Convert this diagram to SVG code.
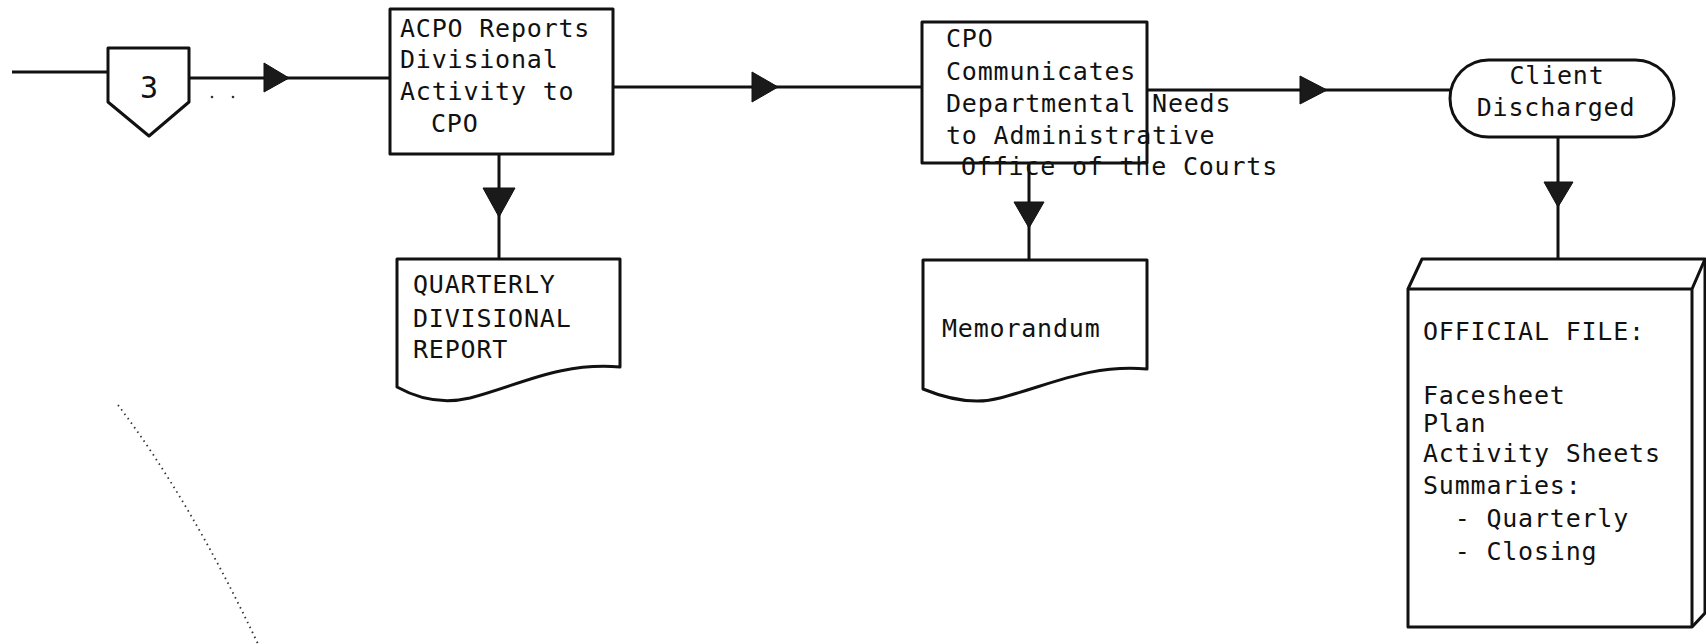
<svg xmlns="http://www.w3.org/2000/svg" width="1706" height="644" viewBox="0 0 1706 644">
<style>
.shape{fill:#fff;stroke:#111;stroke-width:3;stroke-linejoin:round}
.ln{fill:none;stroke:#111;stroke-width:3}
.ah{fill:#1a1a1a;stroke:#111;stroke-width:1}
.t{font-family:"DejaVu Sans Mono","Liberation Mono",monospace;font-size:25px;letter-spacing:0.8px;fill:#111}
.noise{fill:none;stroke:#333;stroke-width:1.8;stroke-dasharray:1.5 4}
</style>
<rect width="1706" height="644" fill="#fff"/>
<g id="connectors">
<path class="ln" d="M12,72 L108,72"/>
<path class="ln" d="M189,78 L390,78"/>
<polygon class="ah" points="264,63 289,78 264,92"/>
<path class="ln" d="M499,154 L499,259"/>
<polygon class="ah" points="483,188 515,188 499,217"/>
<path class="ln" d="M613,87 L922,87"/>
<polygon class="ah" points="752,72 778,87 752,102"/>
<path class="ln" d="M1029,163 L1029,260"/>
<polygon class="ah" points="1014,202 1044,202 1029,228"/>
<path class="ln" d="M1147,90 L1450,90"/>
<polygon class="ah" points="1300,76 1327,90 1300,104"/>
<path class="ln" d="M1558,137 L1558,260"/>
<polygon class="ah" points="1544,182 1573,182 1558,207"/>
</g>
<g id="connector3">
<path class="shape" d="M108,48 L189,48 L189,102 L149,136 L108,102 Z"/>
<text class="t" x="149" y="98" text-anchor="middle" style="font-size:30px;letter-spacing:0">3</text>
<circle cx="212" cy="97" r="1.3" fill="#333"/>
<circle cx="233" cy="97" r="1.3" fill="#333"/>
</g>
<g id="acpo">
<rect class="shape" x="390" y="9" width="223" height="145"/>
<text class="t" x="400" y="37">ACPO Reports</text>
<text class="t" x="400" y="68">Divisional</text>
<text class="t" x="400" y="100">Activity to</text>
<text class="t" x="431" y="132">CPO</text>
</g>
<g id="quarterly">
<path class="shape" d="M397,259 L620,259 L620,367 C560,362 520,385 470,398 C440,405 415,397 397,387 Z"/>
<text class="t" x="413" y="293">QUARTERLY</text>
<text class="t" x="413" y="327">DIVISIONAL</text>
<text class="t" x="413" y="358">REPORT</text>
</g>
<g id="cpo">
<rect class="shape" x="922" y="22" width="225" height="141"/>
<text class="t" x="946" y="47">CPO</text>
<text class="t" x="946" y="80">Communicates</text>
<text class="t" x="946" y="112">Departmental Needs</text>
<text class="t" x="946" y="144">to Administrative</text>
<text class="t" x="961" y="175">Office of the Courts</text>
</g>
<g id="memorandum">
<path class="shape" d="M923,260 L1147,260 L1147,369 C1090,364 1050,385 1000,398 C975,405 950,400 923,389 Z"/>
<text class="t" x="942" y="337">Memorandum</text>
</g>
<g id="client">
<rect class="shape" x="1450" y="60" width="224" height="77" rx="38.5" ry="38.5"/>
<text class="t" x="1557" y="84" text-anchor="middle">Client</text>
<text class="t" x="1556" y="116" text-anchor="middle">Discharged</text>
</g>
<g id="officialfile">
<path class="shape" d="M1408,289 L1422,259 L1705,259 L1705,613 L1692,627 L1408,627 Z"/>
<path class="ln" d="M1408,289 L1692,289 L1705,259 M1692,289 L1692,627"/>
<text class="t" x="1423" y="340">OFFICIAL FILE:</text>
<text class="t" x="1423" y="404">Facesheet</text>
<text class="t" x="1423" y="432">Plan</text>
<text class="t" x="1423" y="462">Activity Sheets</text>
<text class="t" x="1423" y="494">Summaries:</text>
<text class="t" x="1423" y="527" xml:space="preserve">  - Quarterly</text>
<text class="t" x="1423" y="560" xml:space="preserve">  - Closing</text>
</g>
<path class="noise" d="M118,405 Q190,500 258,644"/>
</svg>
